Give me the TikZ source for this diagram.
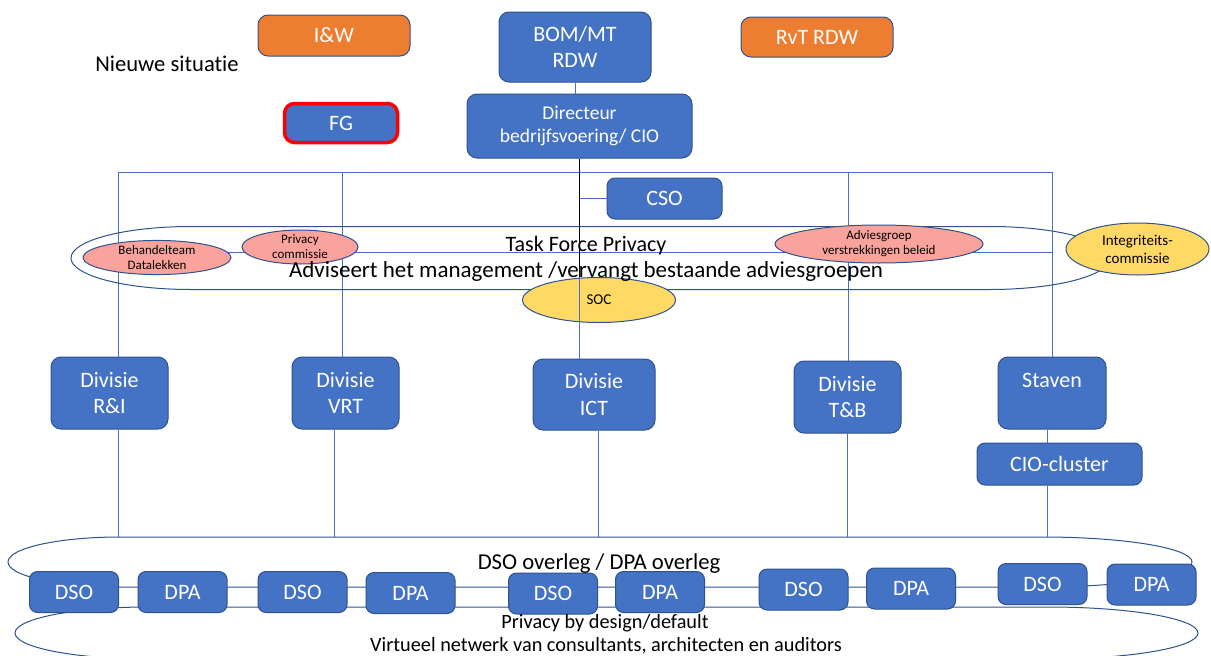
\documentclass[tikz,border=0pt]{standalone}
\usepackage{fontspec}
\setmainfont{Carlito}[Ligatures=NoCommon]
\usetikzlibrary{shapes.geometric}
\definecolor{ofblue}{HTML}{4472C4}
\definecolor{ofdark}{HTML}{2F528F}
\definecolor{oforange}{HTML}{ED7D31}
\definecolor{ofpink}{HTML}{F9A39C}
\definecolor{ofyellow}{HTML}{FFD966}
\definecolor{ofred}{HTML}{FF0000}
\begin{document}
\begin{tikzpicture}[x=1pt,y=-1pt,
 bbox/.style={draw=ofdark, line width=1pt, fill=ofblue, rounded corners=10pt, text=white,
   font=\fontsize{22}{26.5}\selectfont, align=center, inner sep=0pt},
 obox/.style={bbox, fill=oforange},
 smallbox/.style={bbox, rounded corners=8pt, minimum width=89pt, minimum height=41pt},
 pell/.style={ellipse, draw=ofdark, line width=1pt, fill=ofpink, inner sep=0pt,
   font=\fontsize{13}{15}\selectfont, align=center},
 yell/.style={pell, fill=ofyellow},
 conn/.style={draw=ofblue, line width=1pt},
 ring/.style={draw=ofdark, line width=1pt},
 plain/.style={font=\fontsize{22}{26.5}\selectfont, inner sep=0pt, anchor=base},
 plainsm/.style={plain, font=\fontsize{20.3}{24}\selectfont},
]
\useasboundingbox (0,0) rectangle (1211,656);

% ---------- boxes ----------
\node[obox, minimum width=152pt, minimum height=41pt] (IW) at (334,35.5) {I\&W};
\node[bbox, minimum width=152pt, minimum height=70pt] (BOM) at (575,47) {BOM/MT\\RDW};
\node[obox, minimum width=152pt, minimum height=40pt] (RVT) at (817,37) {RvT RDW};
\node[bbox, draw=ofred, line width=3.5pt, minimum width=113pt, minimum height=39pt] (FG) at (341,123) {FG};
\node[bbox, minimum width=225pt, minimum height=64pt, font=\fontsize{19.5}{23.5}\selectfont] (DIR) at (579.5,126) {Directeur\\bedrijfsvoering/ CIO};
\node[bbox, rounded corners=8pt, minimum width=115pt, minimum height=41pt] (CSO) at (664.5,198.5) {CSO};

\node[bbox, minimum width=117pt, minimum height=72pt] (RI) at (109.5,393) {Divisie\\R\&I};
\node[bbox, minimum width=107pt, minimum height=72pt] (VRT) at (345.5,393) {Divisie\\VRT};
\node[bbox, minimum width=122pt, minimum height=71pt] (ICT) at (594,394.5) {Divisie\\ICT};
\node[bbox, minimum width=107pt, minimum height=72pt] (TB) at (847.5,397) {Divisie\\T\&B};
\node[bbox, minimum width=108pt, minimum height=72pt] (ST) at (1052,393) {};
\node[bbox, rounded corners=8pt, minimum width=165pt, minimum height=42pt] (CIO) at (1059.5,464) {CIO-cluster};

\node[plain, font=\fontsize{22.6}{27}\selectfont] (NS) at (167,71) {Nieuwe situatie};

% ---------- connectors ----------
\coordinate (hL) at (118,172);
\coordinate (hR) at (1052,172);
\coordinate (v2) at (342,172);
\coordinate (v4) at (848,172);
\coordinate (iL) at (118,252);
\coordinate (iR) at (1052,252);
\coordinate (b1) at (118,537);
\coordinate (b2) at (334,537);
\coordinate (b3) at (598,537);
\coordinate (b4) at (847,537);
\coordinate (b5) at (1047,537);

\draw[conn] (BOM.south) -- (BOM.south |- DIR.north);
\draw[conn] (hL) -- (hR);
\draw[conn] (hL) -- (hL |- RI.north);
\draw[conn] (v2) -- (v2 |- VRT.north);
\draw[conn] (v4) -- (v4 |- TB.north);
\draw[conn] (hR) -- (hR |- ST.north);
\draw[conn] (DIR.south |- CSO.west) -- (CSO.west);
\draw[conn] (iL) -- (iR);

\draw[conn] (b1 |- RI.south) -- (b1);
\draw[conn] (b2 |- VRT.south) -- (b2);
\draw[conn] (b3 |- ICT.south) -- (b3);
\draw[conn] (b4 |- TB.south) -- (b4);
\draw[conn] (b5 |- ST.south) -- (b5 |- CIO.north);
\draw[conn] (b5 |- CIO.south) -- (b5);

% ---------- rings ----------
% Task force
\draw[ring] (191,226.5) -- (990,226.5)
  arc[start angle=90, end angle=-90, x radius=120pt, y radius=31.5pt]
  -- (191,289.5)
  arc[start angle=270, end angle=90, x radius=120pt, y radius=31.5pt] -- cycle;
% DSO overleg
\draw[ring] (120,537) -- (1042,537)
  arc[start angle=90, end angle=-90, x radius=150pt, y radius=25pt]
  -- (120,587)
  arc[start angle=270, end angle=90, x radius=112pt, y radius=25pt] -- cycle;
% Privacy by design
\draw[ring] (148,607) -- (1048,607)
  arc[start angle=90, end angle=-90, x radius=150pt, y radius=26pt]
  -- (148,659)
  arc[start angle=270, end angle=90, x radius=133pt, y radius=26pt] -- cycle;

% ---------- ellipses ----------
\node[pell, minimum width=148pt, minimum height=31pt] (BD) at (157,257.5) {Behandelteam\\Datalekken};
\node[pell, minimum width=116pt, minimum height=30pt] (PC) at (300,247) {Privacy\\commissie};
\node[pell, minimum width=208pt, minimum height=38pt] (AV) at (879,244) {Adviesgroep\\verstrekkingen beleid};
\node[yell, minimum width=143pt, minimum height=52pt, font=\fontsize{15}{18}\selectfont] (IC) at (1137.5,249) {Integriteits-\\commissie};
\node[yell, minimum width=153pt, minimum height=45pt, font=\fontsize{15}{17}\selectfont] (SOC) at (599,300) {SOC};

\draw[black, line width=1pt] (DIR.south) -- (DIR.south |- SOC.north);
\draw[conn] (DIR.south |- SOC.north) -- (DIR.south |- ICT.north);

% ---------- texts ----------
\node[plain] (TF) at (586,251) {Task Force Privacy};
\node[plain, font=\fontsize{23}{27}\selectfont] (TF2) at (586,277) {Adviseert het management /vervangt bestaande adviesgroepen};
\node[text=white, font=\fontsize{22}{26.5}\selectfont, inner sep=0pt, anchor=base] (STl) at (1052,387) {Staven};

% ---------- DSO / DPA ----------
\node[smallbox] (D1) at (74,592) {DSO};
\node[smallbox] (P2) at (182.5,592) {DPA};
\node[smallbox] (D3) at (302.5,592) {DSO};
\node[smallbox] (P4) at (410.5,593) {DPA};
\node[smallbox] (D5) at (553,593.5) {DSO};
\node[smallbox] (P6) at (660,592) {DPA};
\node[smallbox] (D7) at (803.5,589.5) {DSO};
\node[smallbox] (P8) at (911,588.5) {DPA};
\node[smallbox] (D9) at (1042.5,584) {DSO};
\node[smallbox] (P10) at (1151.5,584.5) {DPA};

\node[plain, font=\fontsize{22.7}{27}\selectfont] (OV) at (599,569) {DSO overleg / DPA overleg};
\node[plainsm] (PD) at (605,628) {Privacy by design/default};
\node[plainsm] (VN) at (606,651) {Virtueel netwerk van consultants, architecten en auditors};
\end{tikzpicture}
\end{document}
